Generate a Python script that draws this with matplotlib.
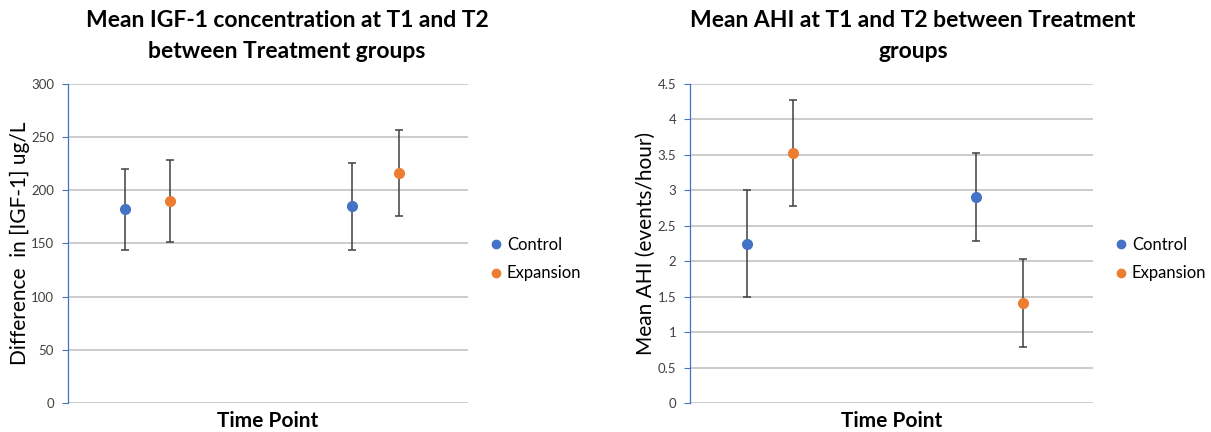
import matplotlib
matplotlib.use("Agg")
import matplotlib.pyplot as plt
from matplotlib.lines import Line2D

# group means and error half-widths at T1 and T2
groups = ["Control", "Expansion"]
igf_means = {"Control": [182, 185], "Expansion": [190, 216]}
igf_err = {"Control": [38, 41], "Expansion": [38.5, 40.5]}
ahi_means = {"Control": [2.25, 2.90], "Expansion": [3.53, 1.41]}
ahi_err = {"Control": [0.75, 0.62], "Expansion": [0.75, 0.62]}
igf_ticks = [0, 50, 100, 150, 200, 250, 300]
ahi_ticks = [0, 0.5, 1, 1.5, 2, 2.5, 3, 3.5, 4, 4.5]

colors = {"Control": "#4472C4", "Expansion": "#ED7D31"}
xpos = {"Control": [0.57, 2.84], "Expansion": [1.02, 3.31]}

plt.rcParams["font.family"] = ["Lato", "DejaVu Sans"]

fig = plt.figure(figsize=(12.11, 4.32), dpi=100)
ax1 = fig.add_axes([68 / 1211, 29 / 432, 400 / 1211, 319 / 432])
ax2 = fig.add_axes([690 / 1211, 29 / 432, 403 / 1211, 319 / 432])


def draw(ax, means, errs, ticks, title, title_x, ylabel):
    for g in groups:
        ax.errorbar(xpos[g], means[g], yerr=errs[g], fmt="o", color=colors[g],
                    ecolor="#404040", elinewidth=1.1, capsize=3, capthick=1.1,
                    markersize=7, zorder=3)
    ax.set_xlim(0, 4)
    ax.set_ylim(ticks[0], ticks[-1])
    ax.set_yticks(ticks)
    ax.set_yticklabels([f"{t:g}" for t in ticks], fontsize=9.5, color="#404040")
    ax.set_xticks([])
    ax.yaxis.grid(True, color="#BFBFBF", linewidth=1.1)
    ax.set_axisbelow(True)
    for s in ["top", "right", "bottom"]:
        ax.spines[s].set_visible(False)
    ax.spines["left"].set_color("#4472C4")
    ax.spines["left"].set_linewidth(0.9)
    ax.tick_params(axis="y", length=4, color="#4472C4", pad=6)
    ax.set_ylabel(ylabel, fontsize=15, labelpad=1)
    ax.set_xlabel("Time Point", fontsize=15, fontweight="bold", labelpad=6)
    fig.text(title_x / 1211, 1 - 36 / 432, title, fontsize=16.5, fontweight="bold",
             ha="center", va="center", linespacing=1.55)
    handles = [Line2D([], [], marker="o", linestyle="none", color=colors[g],
                      markersize=6) for g in groups]
    ax.legend(handles, groups, loc="center left", bbox_to_anchor=(1.02, 0.451),
              frameon=False, handlelength=0.6, handletextpad=0.35,
              labelspacing=0.75, prop={"size": 12})


draw(ax1, igf_means, igf_err, igf_ticks,
     "Mean IGF-1 concentration at T1 and T2\nbetween Treatment groups", 287,
     "Difference  in [IGF-1] ug/L")
draw(ax2, ahi_means, ahi_err, ahi_ticks,
     "Mean AHI at T1 and T2 between Treatment\ngroups", 913,
     "Mean AHI (events/hour)")

fig.savefig("out.png", dpi=100)
